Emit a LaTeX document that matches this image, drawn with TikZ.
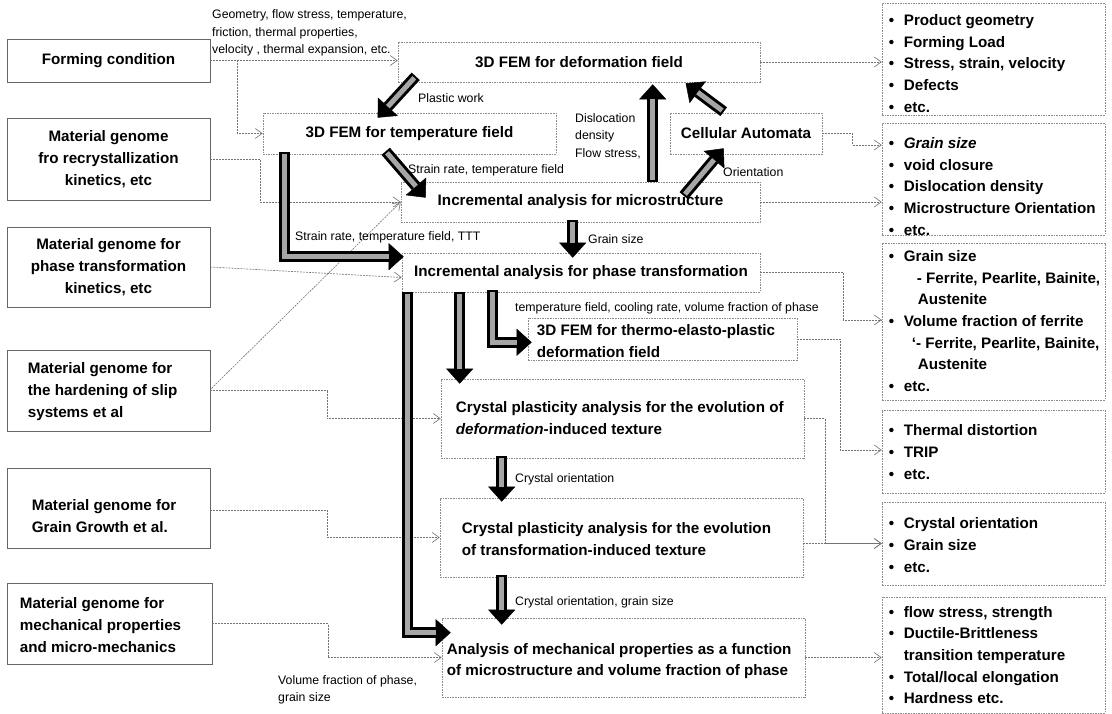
\documentclass[tikz,border=0pt]{standalone}
\usepackage{fontspec}
\setmainfont{Liberation Sans}
\usetikzlibrary{arrows.meta,calc}
\newcommand\bigfont{\fontsize{15.2}{21.7}\selectfont\bfseries}
\newcommand\labfont{\fontsize{12.3}{17.5}\selectfont}
\newcommand\fatarr[1]{\draw[fatout] #1; \draw[fatin] #1;}
\newcommand\bul{\makebox[15pt][l]{•}}
\begin{document}
\begin{tikzpicture}[x=1pt,y=-1pt,
 box/.style={draw=black!45,line width=0.6pt,dash pattern=on 1.6pt off 1pt,inner sep=0pt,font=\bigfont,align=center},
 lbox/.style={box,draw=black!60,solid,line width=0.7pt},
 conn/.style={draw=black!55,line width=0.6pt,dash pattern=on 2pt off 1pt,-{Straight Barb[length=7pt,width=10pt,line width=0.6pt]}},
 fatout/.style={line width=11pt,draw=black,line join=miter,-{Triangle[length=15pt,width=27pt,line width=0.5pt]}},
 fatin/.style={line width=5pt,draw=black!35,line join=miter,shorten >=15pt,shorten <=2pt},
 lab/.style={font=\labfont,inner sep=0pt,anchor=west,align=left},
 txt/.style={font=\bigfont,inner sep=0pt,anchor=west,align=left}]

\useasboundingbox (0,0) rectangle (1112,714);

% left column
\node[lbox,minimum width=203pt,minimum height=43pt] (fc) at (108.5,60.5) {Forming condition};
\node[lbox,minimum width=203pt,minimum height=82pt] (g1) at (108.5,159) {Material genome\\fro recrystallization\\kinetics, etc};
\node[lbox,minimum width=203pt,minimum height=80pt] (g2) at (108.5,267) {Material genome for\\phase transformation\\kinetics, etc};
\node[lbox,minimum width=203pt,minimum height=81pt] (g3) at (108.5,390.5) {};
\node[txt] (g3t) at ($(g3.west)+(21,1)$) {Material genome for\\the hardening of slip\\systems et al};
\node[lbox,minimum width=203pt,minimum height=80pt] (g4) at (108.5,508) {};
\node[txt] (g4t) at ($(g4.west)+(25,8)$) {Material genome for\\Grain Growth et al.};
\node[lbox,minimum width=205pt,minimum height=81pt] (g5) at (109.5,623.5) {};
\node[txt] (g5t) at ($(g5.west)+(13,1.5)$) {Material genome for\\mechanical properties\\and micro-mechanics};

% centre column
\node[box,minimum width=362pt,minimum height=40pt] (def) at (579,62) {3D FEM for deformation field};
\node[box,minimum width=293pt,minimum height=41pt] (temp) at (409.5,133.5) {3D FEM for temperature field};
\node[box,minimum width=152pt,minimum height=41pt] (ca) at (746,133.5) {Cellular Automata};
\node[box,minimum width=359pt,minimum height=40pt] (micro) at (580.5,202) {Incremental analysis for microstructure};
\node[box,minimum width=358pt,minimum height=39pt] (phase) at (581,272.5) {Incremental analysis for phase transformation};
\node[box,minimum width=269pt,minimum height=42pt] (thermo) at (662.5,339) {};
\node[txt] (thermot) at ($(thermo.west)+(9,2)$) {3D FEM for thermo-elasto-plastic\\deformation field};
\node[box,minimum width=363pt,minimum height=79pt] (cdef) at (622.5,418.5) {};
\node[txt] (cdeft) at ($(cdef.west)+(15,-0.5)$) {Crystal plasticity analysis for the evolution of\\\textit{deformation}-induced texture};
\node[box,minimum width=363pt,minimum height=79pt] (ctr) at (621.5,537.5) {};
\node[txt] (ctrt) at ($(ctr.west)+(22,1.5)$) {Crystal plasticity analysis for the evolution\\of transformation-induced texture};
\node[box,minimum width=363pt,minimum height=79pt] (mech) at (623.5,657.5) {};
\node[txt] (mecht) at ($(mech.west)+(5,3.5)$) {Analysis of mechanical properties as a function\\of microstructure and volume fraction of phase};

% right column
\node[box,minimum width=223pt,minimum height=112pt] (r1) at (993.5,59) {};
\node[txt] (r1t) at ($(r1.west)+(7,4.5)$) {\bul Product geometry\\\bul Forming Load\\\bul Stress, strain, velocity\\\bul Defects\\\bul etc.};
\node[box,minimum width=223pt,minimum height=112pt] (r2) at (993.5,179) {};
\node[txt] (r2t) at ($(r2.west)+(7,7.5)$) {\bul \textit{Grain size}\\\bul void closure\\\bul Dislocation density\\\bul Microstructure Orientation\\\bul etc.};
\node[box,minimum width=223pt,minimum height=157pt] (r3) at (993.5,321.5) {};
\node[txt] (r3t) at ($(r3.west)+(7,-0.5)$) {\bul Grain size\\\hspace*{28pt}- Ferrite, Pearlite, Bainite,\\\hspace*{29pt}Austenite\\\bul Volume fraction of ferrite\\\hspace*{23pt}`- Ferrite, Pearlite, Bainite,\\\hspace*{29pt}Austenite\\\bul etc.};
\node[box,minimum width=223pt,minimum height=83pt] (r4) at (993.5,451.5) {};
\node[txt] (r4t) at ($(r4.west)+(7,0.5)$) {\bul Thermal distortion\\\bul TRIP\\\bul etc.};
\node[box,minimum width=223pt,minimum height=83pt] (r5) at (993.5,543.5) {};
\node[txt] (r5t) at ($(r5.west)+(7,1.5)$) {\bul Crystal orientation\\\bul Grain size\\\bul etc.};
\node[box,minimum width=223pt,minimum height=116pt] (r6) at (993.5,655) {};
\node[txt] (r6t) at ($(r6.west)+(7,0)$) {\bul flow stress, strength\\\bul Ductile-Brittleness\\\hspace*{15pt}transition temperature\\\bul Total/local elongation\\\bul Hardness etc.};

% thin connectors
\draw[conn] (fc.east) -- (fc.east -| def.west);
\draw[conn] ($(fc.east)+(27,0)$) |- (temp.west);
\draw[conn] (g1.east) -- ++(50,0) |- (micro.west);
\draw[conn] (g2.east) -- ($(phase.west)+(0,5)$);
\draw[conn] ($(g3.east)+(1,-2)$) -- (micro.west);
\draw[conn] (g3.east) -- ++(117,0) |- (cdef.west);
\draw[conn] ($(g4.east)+(0,2)$) -- ++(117,0) |- (ctr.west);
\draw[conn] (g5.east) -- ++(116,0) |- (mech.west);
\draw[conn] (def.east) -- (def.east -| r1.west);
\draw[conn] (ca.east) -- ++(30,0) |- ($(r2.west)+(0,-34)$);
\draw[conn] (micro.east) -- (micro.east -| r2.west);
\draw[conn] (phase.east) -- ++(83,0) |- ($(r3.west)+(0,-1.5)$);
\draw[conn] (thermo.east) -- ++(43,0) |- ($(r4.west)+(0,-1.5)$);
\draw[conn] (cdef.east) -- ++(21,0) |- (r5.west);
\draw[conn] (ctr.east |- r5.west) -- (r5.west);
\draw[conn] (mech.east) -- (mech.east -| r6.west);

% thick arrows
\fatarr{($(def.south west)+(18,-6)$) -- ($(temp.north west)+(115,5)$)}
\fatarr{($(temp.south west)+(123,-3)$) -- ($(micro.north west)+(25,16)$)}
\fatarr{($(micro.north west)+(252,0)$) -- ($(def.south west)+(255,2)$)}
\fatarr{($(micro.north west)+(283,14)$) -- ($(ca.south west)+(54,-6)$)}
\fatarr{($(ca.north west)+(54,-1)$) -- ($(def.south west)+(288,1)$)}
\fatarr{($(micro.south west)+(172,-2)$) -- ($(phase.north west)+(171,5)$)}
\fatarr{($(temp.south west)+(22,-2)$) |- ($(phase.north west)+(2,4)$)}
\fatarr{($(phase.south west)+(58,0)$) -- ($(cdef.north west)+(19,5)$)}
\fatarr{($(phase.south west)+(91,-2)$) |- ($(thermo.south west)+(4,-18)$)}
\fatarr{($(phase.south west)+(6,0)$) |- ($(mech.north west)+(9,15)$)}
\fatarr{($(cdef.south west)+(61,-2)$) -- ($(ctr.north west)+(62,4)$)}
\fatarr{($(ctr.south west)+(62,-2)$) -- ($(mech.north west)+(60,7)$)}

% labels
\node[lab] (geo) at (212,33) {Geometry, flow stress, temperature,\\friction, thermal properties,\\velocity , thermal expansion, etc.};
\node[lab] (pw) at (418,98) {Plastic work};
\node[lab] (dd) at (575,136) {Dislocation\\density\\Flow stress,};
\node[lab] (srt) at (408,170) {Strain rate, temperature field};
\node[lab] (ori) at (723,172) {Orientation};
\node[lab] (srttt) at (295,237) {Strain rate, temperature field, TTT};
\node[lab] (gs) at (588,239) {Grain size};
\node[lab] (tfc) at (515,308) {temperature field, cooling rate, volume fraction of phase};
\node[lab] (co1) at (515,479) {Crystal orientation};
\node[lab] (co2) at (515,602) {Crystal orientation, grain size};
\node[lab] (vf) at (278,690) {Volume fraction of phase,\\grain size};
\end{tikzpicture}
\end{document}
